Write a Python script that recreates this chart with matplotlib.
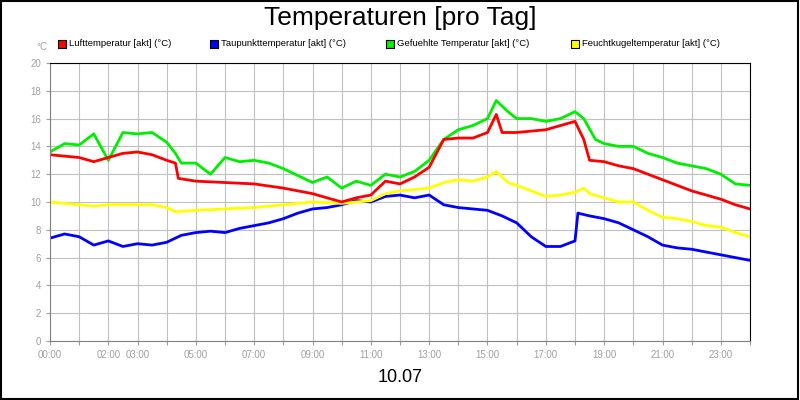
import matplotlib
matplotlib.use("Agg")
import matplotlib.pyplot as plt
from matplotlib.patches import Rectangle

plt.rcParams["font.family"] = ["Liberation Sans", "DejaVu Sans"]

hours_r = [0,1,1.5,2,2.5,3,3.5,4,4.3,4.4,5,6,7,8,9,10,10.5,11,11.5,12,12.5,13,13.5,14,14.5,15,15.3,15.5,16,16.5,17,17.5,18,18.3,18.5,19,19.5,20,20.5,21,21.5,22,22.5,23,23.5,24]
luft = [13.4,13.2,12.9,13.2,13.5,13.6,13.4,13.0,12.8,11.7,11.5,11.4,11.3,11.0,10.6,10.0,10.3,10.5,11.5,11.3,11.8,12.5,14.5,14.6,14.6,15.0,16.3,15.0,15.0,15.1,15.2,15.5,15.8,14.5,13.0,12.9,12.6,12.4,12.0,11.6,11.2,10.8,10.5,10.2,9.8,9.5]

hours_g = [0,0.5,1,1.5,2,2.5,3,3.5,4,4.3,4.5,5,5.5,6,6.5,7,7.5,8,8.5,9,9.5,10,10.5,11,11.5,12,12.5,13,13.5,14,14.5,15,15.3,15.7,16,16.5,17,17.5,18,18.3,18.7,19,19.5,20,20.5,21,21.5,22,22.5,23,23.5,24]
gef = [13.6,14.2,14.1,14.9,13.0,15.0,14.9,15.0,14.3,13.5,12.8,12.8,12.0,13.2,12.9,13.0,12.8,12.4,11.9,11.4,11.8,11.0,11.5,11.2,12.0,11.8,12.2,13.0,14.5,15.2,15.5,16.0,17.3,16.5,16.0,16.0,15.8,16.0,16.5,16.0,14.5,14.2,14.0,14.0,13.5,13.2,12.8,12.6,12.4,12.0,11.3,11.2]

hours_b = [0,0.5,1,1.5,2,2.5,3,3.5,4,4.5,5,5.5,6,6.5,7,7.5,8,8.5,9,9.5,10,10.5,11,11.5,12,12.5,13,13.5,14,14.5,15,15.5,16,16.5,17,17.5,18,18.1,18.5,19,19.5,20,20.5,21,21.5,22,22.5,23,23.5,24]
taup = [7.4,7.7,7.5,6.9,7.2,6.8,7.0,6.9,7.1,7.6,7.8,7.9,7.8,8.1,8.3,8.5,8.8,9.2,9.5,9.6,9.8,10.1,10.0,10.4,10.5,10.3,10.5,9.8,9.6,9.5,9.4,9.0,8.5,7.5,6.8,6.8,7.2,9.2,9.0,8.8,8.5,8.0,7.5,6.9,6.7,6.6,6.4,6.2,6.0,5.8]

hours_y = [0,1,1.5,2,3,3.5,4,4.3,5,6,7,8,9,10,11,11.5,12,12.5,13,13.5,14,14.5,15,15.3,15.7,16,16.5,17,17.5,18,18.3,18.5,19,19.5,20,20.5,21,21.5,22,22.5,23,23.5,24]
feucht = [10.0,9.8,9.7,9.8,9.8,9.8,9.6,9.3,9.4,9.5,9.6,9.8,10.0,9.9,10.1,10.6,10.8,10.9,11.0,11.4,11.6,11.5,11.8,12.2,11.4,11.2,10.8,10.4,10.5,10.7,11.0,10.6,10.3,10.0,10.0,9.4,8.9,8.8,8.6,8.3,8.2,7.8,7.5]

tick_hours = [0,2,3,5,7,9,11,13,15,17,19,21,23]
tick_labels = ["00:00","02:00","03:00","05:00","07:00","09:00","11:00","13:00","15:00","17:00","19:00","21:00","23:00"]
yticks = [0,2,4,6,8,10,12,14,16,18,20]
legend_names = ["Lufttemperatur [akt] (°C)","Taupunkttemperatur [akt] (°C)","Gefuehlte Temperatur [akt] (°C)","Feuchtkugeltemperatur [akt] (°C)"]
colors = ["#ff0000","#0000ff","#00ee00","#ffff00"]

fig = plt.figure(figsize=(8,4), dpi=100)
fig.patches.append(Rectangle((0.001,0.002),0.997,0.995,transform=fig.transFigure,fill=False,edgecolor="black",lw=1.5))
ax = fig.add_axes([50/800, 59/400, 700/800, 278/400])
ax.set_xlim(0,24); ax.set_ylim(0,20)
ax.set_xticks(range(25))
ax.set_xticklabels([tick_labels[tick_hours.index(h)] if h in tick_hours else "" for h in range(25)])
ax.set_yticks(yticks)
ax.grid(True, color="#c0c0c0", lw=0.8)
ax.tick_params(colors="#a0a0a0", labelsize=7, length=3)
for s in ["left","bottom"]:
    ax.spines[s].set_color("#808080")
for s in ["top","right"]:
    ax.spines[s].set_color("black")
for h,v,c in [(hours_b,taup,colors[1]),(hours_y,feucht,colors[3]),(hours_g,gef,colors[2]),(hours_r,luft,colors[0])]:
    ax.plot(h,v,color=c,lw=2)

fig.text(0.5,0.955,"Temperaturen [pro Tag]",ha="center",va="center",fontsize=19)
fig.text(0.5,0.055,"10.07",ha="center",va="center",fontsize=13)
fig.text(42/800,1-47/400,"°C",ha="center",va="center",fontsize=7,color="#a0a0a0")
xs = [58,210,386,571]
for x,n,c in zip(xs,legend_names,colors):
    fig.patches.append(Rectangle((x/800,1-48/400),8/800,8/400,transform=fig.transFigure,facecolor=c,edgecolor="black",lw=0.8))
    fig.text((x+11)/800,1-44/400,n,fontsize=6.8,va="center")
fig.savefig("out.png")
